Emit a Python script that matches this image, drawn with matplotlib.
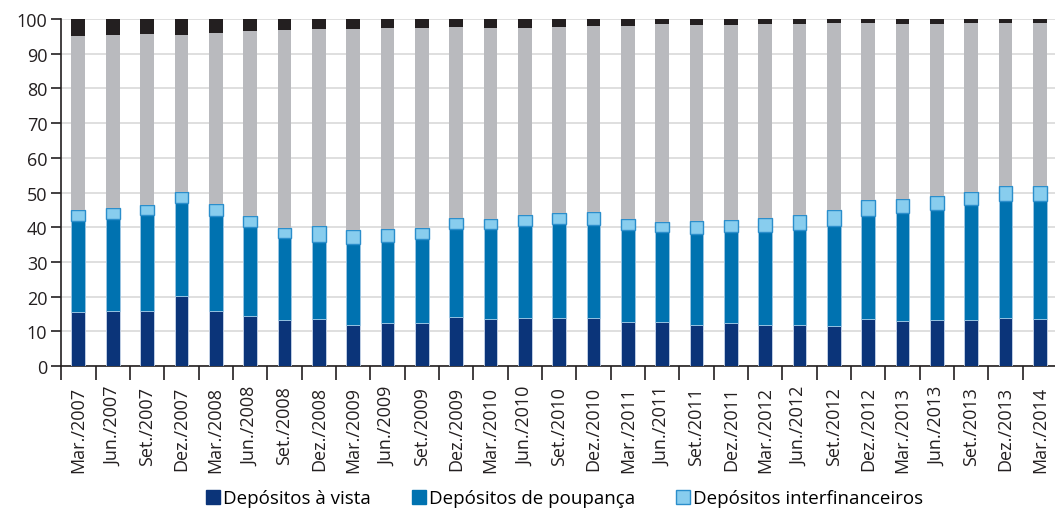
import numpy as np
import matplotlib.pyplot as plt
from matplotlib.patches import Patch

plt.rcParams['font.family'] = ['Open Sans', 'DejaVu Sans']

# --- dados (% do total) ---
periodos = ["Mar./2007", "Jun./2007", "Set./2007", "Dez./2007",
            "Mar./2008", "Jun./2008", "Set./2008", "Dez./2008",
            "Mar./2009", "Jun./2009", "Set./2009", "Dez./2009",
            "Mar./2010", "Jun./2010", "Set./2010", "Dez./2010",
            "Mar./2011", "Jun./2011", "Set./2011", "Dez./2011",
            "Mar./2012", "Jun./2012", "Set./2012", "Dez./2012",
            "Mar./2013", "Jun./2013", "Set./2013", "Dez./2013",
            "Mar./2014"]

# limites acumulados
topo_vista = [15.5, 15.8, 15.9, 20.2, 15.8, 14.4, 13.2, 13.5, 12.0, 12.4, 12.4, 14.1,
              13.5, 13.8, 13.8, 13.8, 12.6, 12.6, 12.0, 12.5, 12.0, 11.9, 11.7, 13.5,
              12.9, 13.3, 13.2, 13.8, 13.5]
topo_poupanca = [41.9, 42.4, 43.5, 47.1, 43.3, 40.2, 37.0, 35.9, 35.2, 35.7, 36.5, 39.5,
                 39.5, 40.3, 41.0, 40.6, 39.2, 38.6, 38.1, 38.5, 38.6, 39.2, 40.4, 43.3,
                 44.2, 45.1, 46.3, 47.6, 47.6]
topo_interfin = [44.9, 45.5, 46.4, 50.2, 46.6, 43.3, 39.7, 40.5, 39.2, 39.4, 39.9, 42.7,
                 42.3, 43.5, 44.1, 44.4, 42.4, 41.6, 41.7, 42.0, 42.7, 43.6, 44.9, 47.8,
                 48.1, 49.0, 50.2, 51.9, 51.9]
topo_prazo = [95.2, 95.3, 95.6, 95.5, 96.0, 96.5, 96.7, 97.0, 97.2, 97.4, 97.3, 97.6,
              97.4, 97.4, 97.8, 98.0, 98.0, 98.4, 98.3, 98.3, 98.6, 98.6, 98.7, 98.8,
              98.6, 98.6, 98.8, 98.9, 98.8]
topo_total = [100.0] * len(periodos)

vista = np.array(topo_vista)
poupanca = np.array(topo_poupanca) - vista
interfin = np.array(topo_interfin) - np.array(topo_poupanca)
prazo = np.array(topo_prazo) - np.array(topo_interfin)
outros = np.array(topo_total) - np.array(topo_prazo)

cores = {'vista': '#0b3479', 'poupanca': '#0072b0', 'interfin': '#88cdee',
         'prazo': '#b9babe', 'outros': '#231f20'}

fig = plt.figure(figsize=(10.55, 5.10), dpi=100)
ax = fig.add_axes([0.058, 0.28, 0.944, 0.681])

x = np.arange(len(periodos))
w = 0.4
ax.bar(x, vista, w, color=cores['vista'], edgecolor='#c9d6ea', linewidth=0.6, zorder=3)
ax.bar(x, poupanca, w, bottom=vista, color=cores['poupanca'], edgecolor='#9cc6e4',
       linewidth=0.6, zorder=3)
ax.bar(x, interfin, w, bottom=vista + poupanca, color=cores['interfin'],
       edgecolor='#2b8ecb', linewidth=1.0, zorder=3)
ax.bar(x, prazo, w, bottom=vista + poupanca + interfin, color=cores['prazo'],
       edgecolor='none', zorder=3)
ax.bar(x, outros, w, bottom=vista + poupanca + interfin + prazo, color=cores['outros'],
       edgecolor='none', zorder=3)

ax.set_ylim(0, 100)
ax.set_xlim(-0.5, len(periodos) - 0.5)
ax.set_yticks(np.arange(0, 101, 10))
ax.yaxis.grid(True, color='#d9d9d9', linewidth=1.2, zorder=0)
ax.set_axisbelow(True)

# marcas nos limites das categorias, rótulos no centro
ax.set_xticks(np.arange(-0.5, len(periodos), 1.0))
ax.set_xticklabels([])
ax.set_xticks(x, minor=True)
ax.set_xticklabels(periodos, minor=True, rotation=90, fontsize=13, color='#231f20')
ax.tick_params(axis='x', which='major', length=10, width=1.2, color='#231f20')
ax.tick_params(axis='x', which='minor', length=0, pad=14)
ax.tick_params(axis='y', length=7, width=1.2, color='#231f20', labelsize=13,
               labelcolor='#231f20', pad=3)

for s in ['top', 'right']:
    ax.spines[s].set_visible(False)
for s in ['left', 'bottom']:
    ax.spines[s].set_color('#231f20')
    ax.spines[s].set_linewidth(1.2)

handles = [Patch(facecolor=cores['vista'], edgecolor=cores['vista']),
           Patch(facecolor=cores['poupanca'], edgecolor=cores['poupanca']),
           Patch(facecolor=cores['interfin'], edgecolor='#2b8ecb')]
labels = ["Depósitos à vista", "Depósitos de poupança", "Depósitos interfinanceiros"]
fig.legend(handles, labels, loc='lower center', bbox_to_anchor=(0.535, -0.03), ncol=3,
           frameon=False, fontsize=13.5, handlelength=0.75, handleheight=0.75,
           handletextpad=0.15, columnspacing=2.2)

fig.savefig('out.png', dpi=100)
